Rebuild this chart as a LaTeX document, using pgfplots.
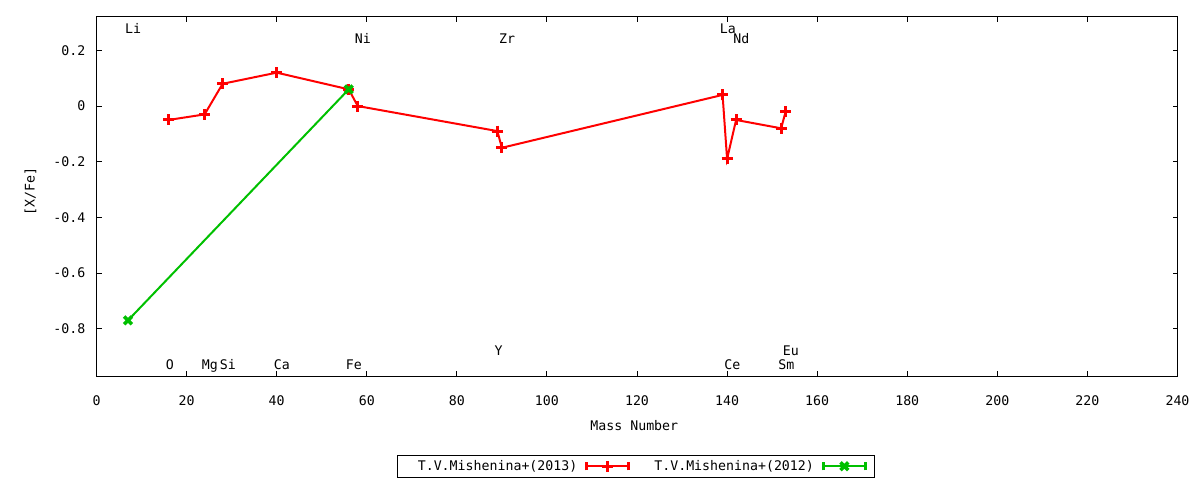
\documentclass[border=0pt]{standalone}
\usepackage{fontspec}
\setmainfont{DejaVu Sans Mono}
\usepackage{pgfplots}
\pgfplotsset{compat=1.18}
\definecolor{gpred}{RGB}{255,0,0}
\definecolor{gpgreen}{RGB}{0,192,0}
\begin{document}
\begin{tikzpicture}[font=\fontsize{13.25bp}{16bp}\selectfont]
\path[use as bounding box] (0,0) rectangle (1200bp,480bp);
\begin{axis}[
  at={(96.5bp,104bp)}, anchor=south west,
  scale only axis, width=1081bp, height=359bp,
  xmin=0, xmax=240, ymin=-0.97, ymax=0.32,
  axis line style={line width=1bp},
  tick align=inside, major tick length=5bp,
  every tick/.style={line width=1bp, black},
  xtick={0,20,...,240},
  xticklabels={0,20,40,60,80,100,120,140,160,180,200,220,240},
  ytick={-0.8,-0.6,-0.4,-0.2,0,0.2},
  yticklabels={-0.8,-0.6,-0.4,-0.2,0,0.2},
  tick label style={inner sep=0pt},
  xticklabel shift=19bp,
  yticklabel shift=11bp,
  xlabel={Mass Number},
  ylabel={[X/Fe]},
  xlabel style={at={(axis description cs:0.4975,-0.138)}, anchor=center, inner sep=0pt},
  ylabel style={at={(axis description cs:-0.061,0.513)}, anchor=center, inner sep=0pt, rotate=0},
  clip=false,
  legend columns=2,
  legend plot pos=right,
  legend style={at={(axis description cs:0.4994,-0.2514)}, anchor=center,
    draw=black, line width=1bp, inner xsep=8bp, inner ysep=3bp,
    /tikz/every even column/.append style={column sep=22bp},
    nodes={inner sep=2bp}},
  legend cell align=right,
  legend image code/.code={
    \draw[#1, mark repeat=2, mark phase=2] plot coordinates {(0bp,0bp) (21bp,0bp) (42bp,0bp)};
    \draw[#1, line width=3bp, mark=none] (0bp,-4bp) -- (0bp,4bp);
    \draw[#1, line width=3bp, mark=none] (42bp,-4bp) -- (42bp,4bp);
  },
]
\addplot[gpred, line width=2bp, mark=+, mark size=5.5bp,
  mark options={line width=3bp}] coordinates {
  (16,-0.05) (24,-0.03) (28,0.08) (40,0.12) (56,0.06) (58,0.0)
  (89,-0.09) (90,-0.15) (139,0.04) (140,-0.19) (142,-0.05)
  (152,-0.08) (153,-0.02)
};
\addlegendentry{\hspace*{10bp}T.V.Mishenina+(2013)\hspace*{6bp}}
\addplot[gpgreen, line width=2bp, mark=x, mark size=5.5bp,
  mark options={line width=3.5bp}] coordinates {
  (7,-0.77) (56,0.06)
};
\addlegendentry{T.V.Mishenina+(2012)\hspace*{6bp}}
\begin{scope}[every node/.style={anchor=base west, inner sep=0pt, xshift=-3bp}]
\node at (axis cs:7,0.261) {Li};
\node at (axis cs:16,-0.945) {O};
\node at (axis cs:24,-0.945) {Mg};
\node at (axis cs:28,-0.945) {Si};
\node at (axis cs:40,-0.945) {Ca};
\node at (axis cs:56,-0.945) {Fe};
\node at (axis cs:58,0.225) {Ni};
\node at (axis cs:89,-0.895) {Y};
\node at (axis cs:90,0.225) {Zr};
\node at (axis cs:139,0.261) {La};
\node at (axis cs:140,-0.945) {Ce};
\node at (axis cs:142,0.225) {Nd};
\node at (axis cs:152,-0.945) {Sm};
\node at (axis cs:153,-0.895) {Eu};
\end{scope}
\end{axis}
\end{tikzpicture}
\end{document}
